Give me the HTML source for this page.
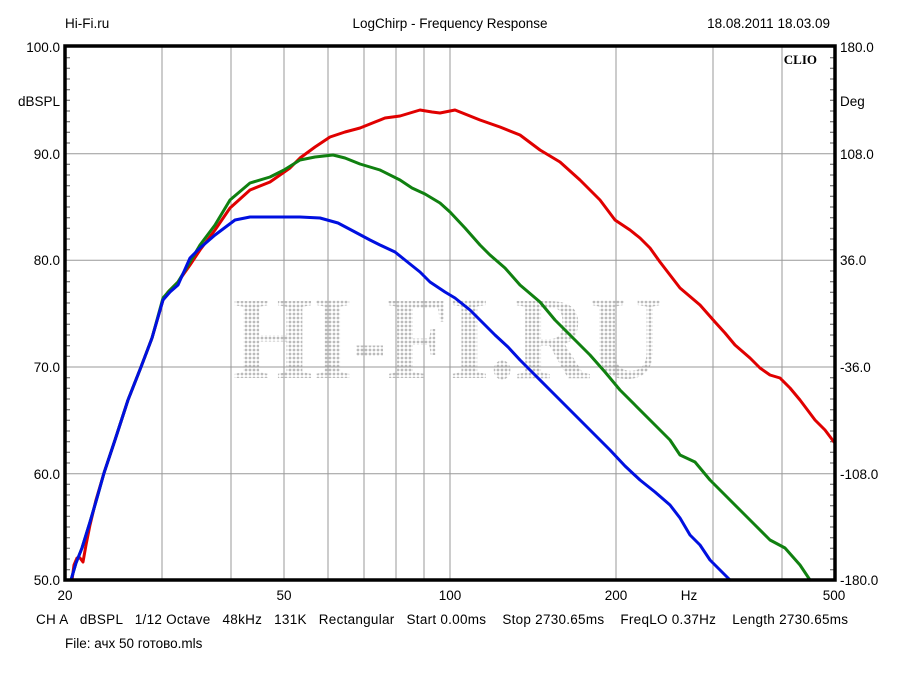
<!DOCTYPE html>
<html><head><meta charset="utf-8"><style>
html,body{margin:0;padding:0;background:#fff}
svg text{font-family:"Liberation Sans",sans-serif;font-size:13.5px;fill:#000}
</style></head><body>
<svg width="900" height="675" viewBox="0 0 900 675" xmlns="http://www.w3.org/2000/svg">
<defs>
<pattern id="dots" width="4" height="4" patternUnits="userSpaceOnUse"><circle cx="2" cy="2" r="1.4" fill="#bbb"/></pattern>
</defs>
<rect width="900" height="675" fill="#fff"/>
<text x="65" y="28">Hi-Fi.ru</text>
<text x="450" y="28" text-anchor="middle">LogChirp - Frequency Response</text>
<text x="830" y="28" text-anchor="end">18.08.2011 18.03.09</text>
<!-- watermark -->
<text x="233" y="378" textLength="430" lengthAdjust="spacingAndGlyphs" style="font-family:'Liberation Serif',serif;font-size:118px;font-weight:bold;fill:url(#dots)">HI-FI.RU</text>
<!-- grid -->
<g stroke="#999" stroke-width="1">
<line x1="162" y1="47" x2="162" y2="580"/>
<line x1="231" y1="47" x2="231" y2="580"/>
<line x1="284" y1="47" x2="284" y2="580"/>
<line x1="328" y1="47" x2="328" y2="580"/>
<line x1="364" y1="47" x2="364" y2="580"/>
<line x1="396" y1="47" x2="396" y2="580"/>
<line x1="424" y1="47" x2="424" y2="580"/>
<line x1="450" y1="47" x2="450" y2="580"/>
<line x1="616" y1="47" x2="616" y2="580"/>
<line x1="713" y1="47" x2="713" y2="580"/>
<line x1="782" y1="47" x2="782" y2="580"/>
<line x1="65" y1="153.7" x2="835" y2="153.7"/>
<line x1="65" y1="260.3" x2="835" y2="260.3"/>
<line x1="65" y1="367" x2="835" y2="367"/>
<line x1="65" y1="473.7" x2="835" y2="473.7"/>
</g>
<!-- minor ticks -->
<g stroke="#555" stroke-width="1">
<path d="M65 57.7h5M65 68.3h5M65 79h5M65 89.7h5M65 100.3h5M65 111h5M65 121.7h5M65 132.3h5M65 143h5M65 164.3h5M65 175h5M65 185.7h5M65 196.3h5M65 207h5M65 217.7h5M65 228.3h5M65 239h5M65 249.7h5M65 271h5M65 281.7h5M65 292.3h5M65 303h5M65 313.7h5M65 324.3h5M65 335h5M65 345.7h5M65 356.3h5M65 377.7h5M65 388.3h5M65 399h5M65 409.7h5M65 420.3h5M65 431h5M65 441.7h5M65 452.3h5M65 463h5M65 484.3h5M65 495h5M65 505.7h5M65 516.3h5M65 527h5M65 537.7h5M65 548.3h5M65 559h5M65 569.7h5"/>
<path transform="translate(900,0) scale(-1,1)" d="M65 57.7h5M65 68.3h5M65 79h5M65 89.7h5M65 100.3h5M65 111h5M65 121.7h5M65 132.3h5M65 143h5M65 164.3h5M65 175h5M65 185.7h5M65 196.3h5M65 207h5M65 217.7h5M65 228.3h5M65 239h5M65 249.7h5M65 271h5M65 281.7h5M65 292.3h5M65 303h5M65 313.7h5M65 324.3h5M65 335h5M65 345.7h5M65 356.3h5M65 377.7h5M65 388.3h5M65 399h5M65 409.7h5M65 420.3h5M65 431h5M65 441.7h5M65 452.3h5M65 463h5M65 484.3h5M65 495h5M65 505.7h5M65 516.3h5M65 527h5M65 537.7h5M65 548.3h5M65 559h5M65 569.7h5"/>
</g>
<!-- curves -->
<g fill="none" stroke-width="3" stroke-linejoin="round" stroke-linecap="round">
<polyline stroke="#e00000" points="72,580 74,565 77,558 80,558 83,562 86,545 90,525 96,500 104,473 115,440 128,400 141,367 152,338 163,300 168,292 178,282 190,265 200,250 215,230 230,208 250,190 270,182 290,168 300,158 315,147 330,137 345,132 360,128 375,122 385,118 400,116 420,110 432,112 440,113 455,110 465,114 480,120 500,127 520,135 540,150 560,162 580,180 600,200 615,220 630,230 640,238 650,248 660,262 670,275 680,288 700,305 715,322 725,333 735,345 750,358 760,368 770,375 780,378 790,388 800,400 815,420 825,430 834,442"/>
<polyline stroke="#108010" points="71,580 76,563 82,548 90,522 97,498 104,473 115,440 128,400 141,367 152,338 163,298 170,290 178,282 190,262 200,245 215,225 230,200 250,183 270,177 284,170 300,160 315,157 333,155 345,158 360,164 380,170 400,180 412,188 425,194 440,203 450,212 465,228 480,245 490,255 505,268 520,285 540,302 555,320 570,335 590,355 605,372 620,390 635,405 655,425 670,440 680,455 695,462 710,480 725,495 740,510 755,525 770,540 785,548 800,565 810,580"/>
<polyline stroke="#0010e0" points="71,580 76,563 82,548 90,522 97,498 104,473 115,440 128,400 141,367 152,338 163,300 170,292 178,285 190,258 200,248 215,235 235,220 250,217 275,217 300,217 320,218 338,223 355,232 370,240 380,245 395,252 405,260 420,272 430,282 445,292 455,298 470,310 483,323 495,335 508,347 520,360 535,375 550,390 565,405 580,420 595,435 610,450 625,466 640,480 655,492 670,505 680,518 690,535 700,545 710,560 720,570 730,580"/>
</g>
<!-- frame -->
<rect x="65" y="46" width="770" height="534" fill="none" stroke="#000" stroke-width="3.5"/>
<text x="817" y="64" text-anchor="end" style="font-family:'Liberation Serif',serif;font-weight:bold;font-size:13px">CLIO</text>
<!-- left labels -->
<g text-anchor="end">
<text x="60" y="52">100.0</text>
<text x="60" y="106">dBSPL</text>
<text x="60" y="159">90.0</text>
<text x="60" y="265">80.0</text>
<text x="60" y="372">70.0</text>
<text x="60" y="479">60.0</text>
<text x="60" y="585">50.0</text>
</g>
<g text-anchor="start">
<text x="840" y="52">180.0</text>
<text x="840" y="106">Deg</text>
<text x="840" y="159">108.0</text>
<text x="840" y="265">36.0</text>
<text x="840" y="372">-36.0</text>
<text x="840" y="479">-108.0</text>
<text x="840" y="585">-180.0</text>
</g>
<g text-anchor="middle">
<text x="65" y="600">20</text>
<text x="284" y="600">50</text>
<text x="450" y="600">100</text>
<text x="616" y="600">200</text>
<text x="689" y="600">Hz</text>
<text x="834" y="600">500</text>
</g>
<text x="36" y="624" textLength="812" lengthAdjust="spacing" xml:space="preserve">CH A   dBSPL   1/12 Octave   48kHz   131K   Rectangular   Start 0.00ms    Stop 2730.65ms    FreqLO 0.37Hz    Length 2730.65ms</text>
<text x="65" y="648">File: ачх 50 готово.mls</text>
</svg>
</body></html>
